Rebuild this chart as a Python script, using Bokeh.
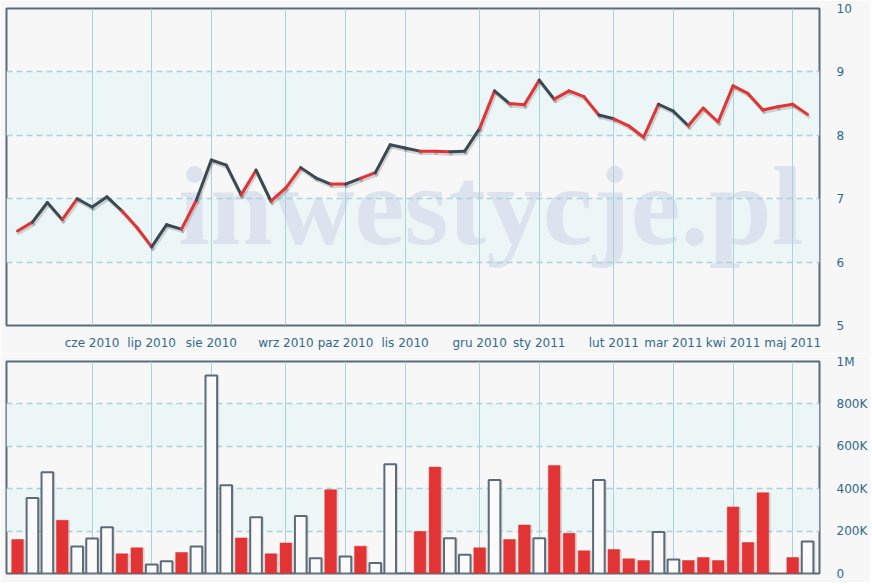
from bokeh.plotting import figure
from bokeh.layouts import column
from bokeh.models import Range1d, FixedTicker, BoxAnnotation, Label, ColumnDataSource
from bokeh.transform import dodge
from bokeh.embed import file_html
from bokeh.resources import INLINE

# ---- data (weekly, May 2010 - May 2011) ----
close = [6.49, 6.63, 6.94, 6.67, 7.00, 6.87, 7.03, 6.81, 6.55, 6.24,
         6.59, 6.52, 6.98, 7.61, 7.53, 7.06, 7.45, 6.96, 7.17, 7.49,
         7.33, 7.23, 7.23, 7.32, 7.41, 7.85, 7.80, 7.75, 7.75, 7.74,
         7.75, 8.11, 8.70, 8.50, 8.48, 8.87, 8.57, 8.70, 8.61, 8.32,
         8.26, 8.15, 7.97, 8.49, 8.38, 8.15, 8.43, 8.21, 8.78, 8.66,
         8.40, 8.45, 8.49, 8.33]
volume = [160, 356, 478, 251, 127, 165, 218, 93, 121, 42,
          58, 99, 127, 934, 416, 168, 265, 93, 144, 271,
          72, 395, 80, 129, 50, 515, 0, 198, 502, 166,
          89, 121, 441, 160, 229, 166, 510, 190, 107, 441,
          113, 69, 61, 196, 66, 61, 75, 61, 314, 146,
          381, 0, 75, 151]  # thousands
up = [1, 0, 0, 1, 0, 0, 0, 1, 1, 0,
      0, 1, 0, 0, 0, 1, 0, 1, 1, 0,
      0, 1, 0, 1, 0, 0, 0, 1, 1, 0,
      0, 1, 0, 1, 1, 0, 1, 1, 1, 0,
      1, 1, 1, 0, 0, 1, 1, 1, 1, 1,
      1, 1, 1, 0]
month_labels = ["cze 2010", "lip 2010", "sie 2010", "wrz 2010", "paz 2010", "lis 2010",
                "gru 2010", "sty 2011", "lut 2011", "mar 2011", "kwi 2011", "maj 2011"]
month_start = [5, 9, 13, 18, 22, 26, 31, 35, 40, 44, 48, 52]
price_ticks = [5, 6, 7, 8, 9, 10]
vol_ticks = [0, 200000, 400000, 600000, 800000, 1000000]
vol_tick_labels = ["0", "200K", "400K", "600K", "800K", "1M"]

RED = "#e23434"
DARK = "#3b4956"
BG = "#f7f7f7"
BAND = "#edf6f6"
GRID = "#a9d3dc"
FRAME = "#5b6b7a"
LABEL = "#2f6a90"
FONT = "DejaVu Sans"

n = len(close)
idx = list(range(n))

seg = ColumnDataSource(dict(
    x0=idx[:-1], x1=idx[1:], y0=close[:-1], y1=close[1:],
    c=[RED if u else DARK for u in up[:-1]]))

vsrc = ColumnDataSource(dict(
    x=idx, top=[v * 1000 for v in volume],
    fill=[RED if u else "#fafafa" for u in up],
    line=[RED if u else FRAME for u in up],
    lw=[0.5 if u else 2 for u in up]))

xr = Range1d(-0.74, 53.8)


def style(p):
    p.background_fill_color = BG
    p.border_fill_color = BG
    p.outline_line_color = FRAME
    p.outline_line_width = 2
    p.xgrid.ticker = FixedTicker(ticks=month_start)
    p.xgrid.grid_line_color = GRID
    p.xgrid.grid_line_width = 1
    p.ygrid.grid_line_color = GRID
    p.ygrid.grid_line_dash = "6 4"
    p.ygrid.grid_line_width = 1.3
    for ax in p.yaxis:
        ax.axis_line_color = None
        ax.major_tick_line_color = None
        ax.minor_tick_line_color = None
        ax.major_tick_out = 0
        ax.major_tick_in = 0
        ax.major_label_standoff = 17
        ax.major_label_text_font = FONT
        ax.major_label_text_font_size = "12px"
        ax.major_label_text_color = LABEL


# ---- top: price ----
p1 = figure(width=870, height=353, x_range=xr, y_range=Range1d(5, 10),
            output_backend="svg", toolbar_location=None, y_axis_location="right",
            min_border_left=6, min_border_right=50, min_border_top=8, min_border_bottom=28)
style(p1)
p1.yaxis.ticker = FixedTicker(ticks=price_ticks)
p1.ygrid.ticker = FixedTicker(ticks=price_ticks[1:-1])
xa = p1.xaxis[0]
xa.ticker = FixedTicker(ticks=month_start)
xa.major_label_overrides = {m: l for m, l in zip(month_start, month_labels)}
xa.axis_line_color = None
xa.major_tick_line_color = None
xa.minor_tick_line_color = None
xa.major_tick_out = 0
xa.major_tick_in = 0
xa.major_label_standoff = 10
xa.major_label_text_font = FONT
xa.major_label_text_font_size = "12px"
xa.major_label_text_color = LABEL

for b, t in [(price_ticks[1], price_ticks[2]), (price_ticks[3], price_ticks[4])]:
    p1.add_layout(BoxAnnotation(bottom=b, top=t, fill_color=BAND, fill_alpha=1,
                                line_color=None, level="image"))
p1.add_layout(Label(x=31.75, y=6.9, text="inwestycje.pl", text_align="center",
                    text_baseline="alphabetic", text_font="Liberation Sans Narrow",
                    text_font_style="bold", text_font_size="113px",
                    text_color="#dde3ee", level="image"))

p1.segment(x0=dodge("x0", 0.08, range=xr), x1=dodge("x1", 0.08, range=xr),
           y0=dodge("y0", -0.035), y1=dodge("y1", -0.035), source=seg,
           line_color="#000000", line_alpha=0.15, line_width=3.5, line_cap="round")
p1.segment(x0="x0", x1="x1", y0="y0", y1="y1", source=seg, line_color="c",
           line_width=3, line_cap="round")

# ---- bottom: volume ----
p2 = figure(width=870, height=229, x_range=xr, y_range=Range1d(0, 1000000),
            output_backend="svg", toolbar_location=None, y_axis_location="right",
            min_border_left=6, min_border_right=50, min_border_top=8, min_border_bottom=9)
style(p2)
p2.xaxis.visible = False
p2.yaxis.ticker = FixedTicker(ticks=vol_ticks)
p2.yaxis.major_label_overrides = {t: l for t, l in zip(vol_ticks, vol_tick_labels)}
p2.ygrid.ticker = FixedTicker(ticks=vol_ticks[1:-1])
for b, t in [(vol_ticks[1], vol_ticks[2]), (vol_ticks[3], vol_ticks[4])]:
    p2.add_layout(BoxAnnotation(bottom=b, top=t, fill_color=BAND, fill_alpha=1,
                                line_color=None, level="image"))

p2.vbar(x=dodge("x", 0.14, range=xr), top="top", bottom=0, width=0.78, source=vsrc,
        fill_color="#000000", fill_alpha=0.12, line_color=None)
p2.vbar(x="x", top="top", bottom=0, width=0.78, source=vsrc,
        fill_color="fill", line_color="line", line_width="lw")

layout = column(p1, p2, spacing=0)
open("out.html", "w").write(file_html(layout, INLINE))
